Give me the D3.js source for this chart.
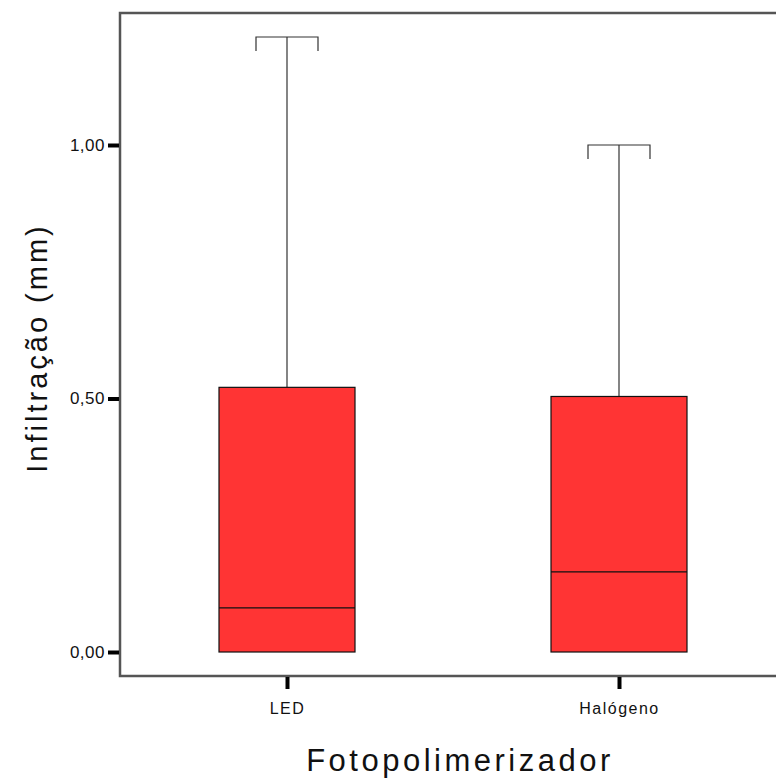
<!DOCTYPE html>
<html>
<head>
<meta charset="utf-8">
<script src="https://cdn.jsdelivr.net/npm/d3@7"></script>
<style>
  body { margin: 0; background: #fff; }
  text { font-family: "Liberation Sans", Arial, sans-serif; fill: #111; }
  .title { font-family: "Liberation Sans Narrow", "Liberation Sans", Arial, sans-serif; }
</style>
</head>
<body>
<div id="chart"></div>
<script>
// data
var groups = ["LED", "Halógeno"];
var q1 = [0, 0];
var medians = [0.087, 0.158];
var q3 = [0.522, 0.504];
var whiskerLow = [0, 0];
var whiskerHigh = [1.213, 1.0];
var yTicks = [0, 0.5, 1.0];

var width = 776, height = 781;
var frame = {left: 120, top: 13, bottom: 676};

var svg = d3.select("#chart")
    .append("svg")
    .attr("width", width)
    .attr("height", height);

var x = d3.scalePoint()
    .domain(groups)
    .range([121, 785])
    .padding(0.5);

var y = d3.scaleLinear()
    .domain([0, 1])
    .range([652, 145]);

var boxW = 136, capW = 62;

// frame (open on the right)
svg.append("path")
    .attr("d", "M" + width + "," + frame.top + "H" + frame.left + "V" + frame.bottom + "H" + width)
    .attr("fill", "none")
    .attr("stroke", "#555")
    .attr("stroke-width", 2.5);

// Y axis ticks
var yAxis = svg.append("g")
    .attr("transform", "translate(" + (frame.left - 1) + ",0)")
    .call(d3.axisLeft(y).tickValues(yTicks).tickSize(11).tickPadding(3)
        .tickFormat(function(d) { return d3.format(".2f")(d).replace(".", ","); }));
yAxis.select(".domain").remove();
yAxis.selectAll(".tick line").attr("stroke", "#000").attr("stroke-width", 4);
yAxis.selectAll(".tick text")
    .attr("font-size", 17)
    .attr("letter-spacing", "0.5px")
    .attr("fill", "#111");

// X axis ticks
var xAxis = svg.append("g")
    .attr("transform", "translate(0," + (frame.bottom + 1) + ")")
    .call(d3.axisBottom(x).tickSize(12).tickPadding(14));
xAxis.select(".domain").remove();
xAxis.selectAll(".tick line").attr("stroke", "#000").attr("stroke-width", 4);
xAxis.selectAll(".tick text")
    .attr("font-size", 16)
    .attr("letter-spacing", "1.5px")
    .attr("fill", "#111");

// boxes
var g = svg.selectAll(".box")
    .data(groups)
    .enter()
    .append("g")
    .attr("class", "box");

// whisker stems
g.append("line")
    .attr("x1", function(d) { return x(d); })
    .attr("x2", function(d) { return x(d); })
    .attr("y1", function(d, i) { return y(whiskerHigh[i]); })
    .attr("y2", function(d, i) { return y(q3[i]); })
    .attr("stroke", "#333")
    .attr("stroke-width", 1.2);

// whisker caps
g.append("path")
    .attr("d", function(d, i) {
        var cx = x(d), cy = y(whiskerHigh[i]);
        return "M" + (cx - capW / 2) + "," + (cy + 14) + "V" + cy + "H" + (cx + capW / 2) + "V" + (cy + 14);
    })
    .attr("fill", "none")
    .attr("stroke", "#333")
    .attr("stroke-width", 1.2);

g.append("rect")
    .attr("x", function(d) { return x(d) - boxW / 2; })
    .attr("y", function(d, i) { return y(q3[i]); })
    .attr("width", boxW)
    .attr("height", function(d, i) { return y(q1[i]) - y(q3[i]); })
    .attr("fill", "#ff3434")
    .attr("stroke", "#111")
    .attr("stroke-width", 1.2);

g.append("line")
    .attr("x1", function(d) { return x(d) - boxW / 2; })
    .attr("x2", function(d) { return x(d) + boxW / 2; })
    .attr("y1", function(d, i) { return y(medians[i]); })
    .attr("y2", function(d, i) { return y(medians[i]); })
    .attr("stroke", "#111")
    .attr("stroke-width", 1.2);

// axis titles
svg.append("text")
    .attr("class", "title")
    .attr("x", 460)
    .attr("y", 771)
    .attr("text-anchor", "middle")
    .style("font-size", "31px")
    .style("letter-spacing", "3.5px")
    .text("Fotopolimerizador");

svg.append("text")
    .attr("class", "title")
    .attr("transform", "translate(47,348) rotate(-90)")
    .attr("text-anchor", "middle")
    .style("font-size", "29px")
    .style("letter-spacing", "3px")
    .text("Infiltração (mm)");
</script>
</body>
</html>
